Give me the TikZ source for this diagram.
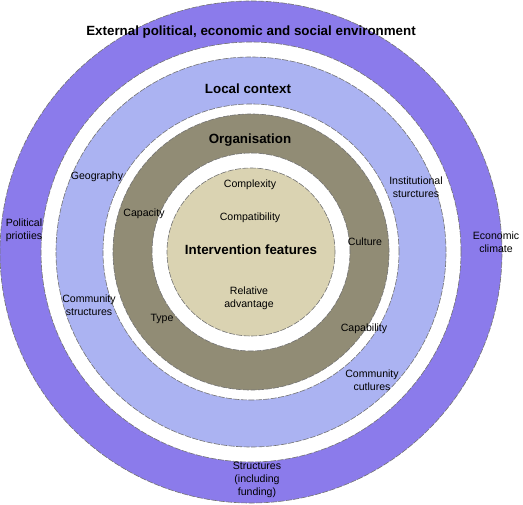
\documentclass[tikz,border=0pt]{standalone}
\usepackage{fontspec}
\setmainfont{Liberation Sans}
\definecolor{extcol}{RGB}{139,123,235}
\definecolor{loccol}{RGB}{171,179,242}
\definecolor{orgcol}{RGB}{145,140,117}
\definecolor{intcol}{RGB}{218,211,178}
\begin{document}
\begin{tikzpicture}[x=1bp,y=-1bp,
	ring/.style={draw=black!55,line width=.6pt,dash pattern=on 6pt off 1.5pt,even odd rule},
	lbl/.style={align=center,inner sep=0pt,font=\fontsize{10.6}{12.8}\selectfont},
	ttl/.style={inner sep=0pt,font=\fontsize{13.4}{15}\selectfont\bfseries}]
	\useasboundingbox (0,0) rectangle (523,505);
	\coordinate (c) at (251,252);
	% rings, outside in
	\draw[ring,fill=extcol](c) circle (251bp) circle (210bp);
	\draw[ring,fill=loccol](c) circle (195bp) circle (148bp);
	\draw[ring,fill=orgcol](c) circle (138bp) circle (99bp);
	\draw[ring,fill=intcol](c) circle (84bp);
	% titles
	\node[ttl](ext) at (251,32){External political, economic and social environment};
	\node[ttl](loc) at (248,89){Local context};
	\node[ttl](org) at (250,140){Organisation};
	\node[ttl](int) at (251,250){Intervention features};
	% intervention features
	\node[lbl](cplx) at (250,185){Complexity};
	\node[lbl](cmpt) at (250,218){Compatibility};
	\node[lbl](radv) at (249,298){Relative\\advantage};
	% organisation
	\node[lbl](cpcy) at (144,214){Capacity};
	\node[lbl](type) at (162,319){Type};
	\node[lbl](cult) at (365,242){Culture};
	\node[lbl](cpbl) at (364,329){Capability};
	% local context
	\node[lbl](geo) at (97,177){Geography};
	\node[lbl](cstr) at (89,305){Community\\structures};
	\node[lbl](istr) at (416,187){Institutional\\sturctures};
	\node[lbl](ccul) at (372,380){Community\\cutlures};
	% external environment
	\node[lbl](pol) at (24,230){Political\\priotiies};
	\node[lbl](eco) at (496,242){Economic\\climate};
	\node[lbl](fund) at (257,480){Structures\\(including\\funding)};
\end{tikzpicture}
\end{document}
